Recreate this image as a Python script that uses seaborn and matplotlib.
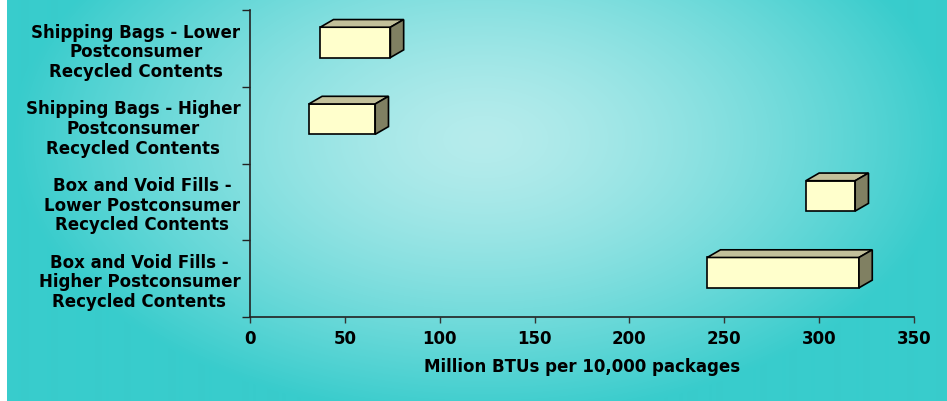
import numpy as np
import matplotlib.pyplot as plt
import seaborn as sns
from matplotlib.patches import Polygon

sns.set_style('white')
plt.rcParams['font.family'] = ['DejaVu Sans']
plt.rcParams['font.weight'] = 'bold'
plt.rcParams['text.color'] = 'black'
plt.rcParams['xtick.color'] = 'black'
plt.rcParams['ytick.color'] = 'black'
plt.rcParams['axes.labelcolor'] = 'black'

# data: each package type spans a range of energy use
categories = ['Shipping Bags - Lower\nPostconsumer\nRecycled Contents',
              'Shipping Bags - Higher\nPostconsumer\nRecycled Contents',
              'Box and Void Fills -\nLower Postconsumer\nRecycled Contents',
              'Box and Void Fills -\nHigher Postconsumer\nRecycled Contents']
low = [37, 31, 293, 241]
high = [74, 66, 319, 321]
xticks = [0, 50, 100, 150, 200, 250, 300, 350]

fig = plt.figure(figsize=(9.47, 4.02), dpi=100)
fig.patch.set_facecolor('white')

# radial gradient backdrop
bg = fig.add_axes([7/947, 0, 940/947, 1], zorder=0)
W, H = 940, 402
xx, yy = np.meshgrid(np.arange(W), np.arange(H))
r = np.sqrt(((xx - 475) / 470.0)**2 + ((yy - 140) / 280.0)**2)
t = np.clip(r, 0, 1)**1.4
c_in = np.array([182, 236, 236]) / 255
c_out = np.array([56, 204, 204]) / 255
img = c_in[None, None, :] * (1 - t[..., None]) + c_out[None, None, :] * t[..., None]
bg.imshow(img, aspect='auto', interpolation='bilinear')
bg.axis('off')

ax = fig.add_axes([250/947, 84/402, 664/947, 307/402], zorder=1)
ax.patch.set_alpha(0)

sns.barplot(x=high, y=categories, orient='h', ax=ax, color='#FFFFCC',
            saturation=1, edgecolor='black', linewidth=1.2, width=0.395)

# turn the bars into floating boxes with a 3d look
dx, dy = 7.0, 0.10
for i, p in enumerate(ax.patches):
    p.set_x(low[i])
    p.set_width(high[i] - low[i])
    p.set_y(i - 0.078 - 0.1975)
    p.set_facecolor('#FFFFCC')
    x0, x1 = low[i], high[i]
    y0, h = p.get_y(), p.get_height()
    top = Polygon([(x0, y0), (x1, y0), (x1 + dx, y0 - dy), (x0 + dx, y0 - dy)],
                  closed=True, facecolor='#C2C09A', edgecolor='black', linewidth=1.2)
    side = Polygon([(x1, y0), (x1 + dx, y0 - dy), (x1 + dx, y0 + h - dy), (x1, y0 + h)],
                   closed=True, facecolor='#808062', edgecolor='black', linewidth=1.2)
    ax.add_patch(top)
    ax.add_patch(side)

ax.set_xlim(0, 350)
ax.set_ylim(3.5, -0.5)
ax.set_xticks(xticks)
ax.set_xticklabels([str(v) for v in xticks], fontsize=12, fontweight='bold')
ax.set_yticks([-0.5, 0.5, 1.5, 2.5, 3.5])
ax.set_yticklabels([])
ax.set_yticks(range(len(categories)), minor=True)
ax.set_yticklabels(categories, minor=True, fontsize=12, fontweight='bold',
                   multialignment='center', linespacing=1.12)
ax.tick_params(axis='y', which='major', length=5.5, width=1, color='#222222', direction='out', left=True)
ax.tick_params(axis='y', which='minor', length=0, pad=7)
ax.tick_params(axis='x', which='major', length=4.5, width=1, color='#333333', direction='out', pad=4, bottom=True)
ax.set_xlabel('Million BTUs per 10,000 packages', fontsize=12, fontweight='bold', labelpad=7)
ax.set_ylabel('')

for s in ['top', 'right']:
    ax.spines[s].set_visible(False)
for s in ['left', 'bottom']:
    ax.spines[s].set_color('#222222')
    ax.spines[s].set_linewidth(1.2)

plt.savefig('out.png', dpi=100)
